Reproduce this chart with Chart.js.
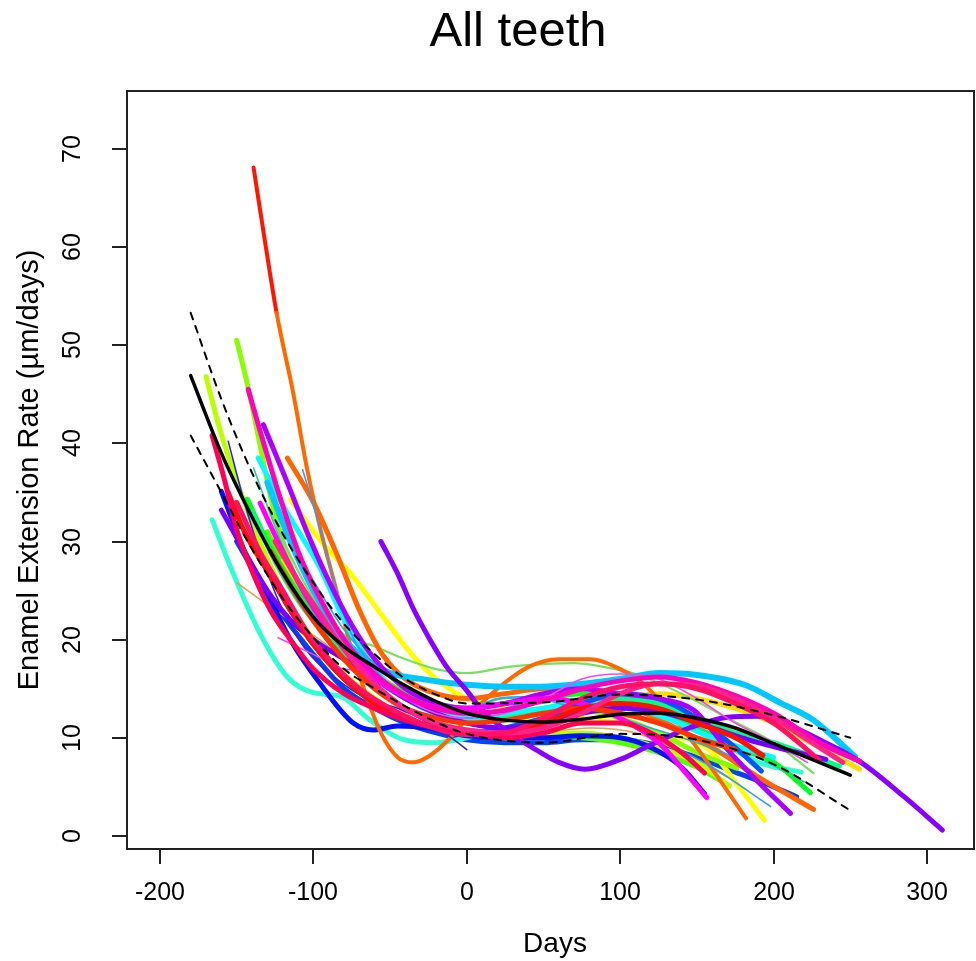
<!DOCTYPE html>
<html>
<head>
<meta charset="utf-8">
<title>All teeth</title>
<script src="https://cdn.jsdelivr.net/npm/chart.js"></script>
<style>
  html, body { margin: 0; padding: 0; background: #fff; }
  canvas { display: block; }
</style>
</head>
<body>
<canvas id="chart" width="976" height="961"></canvas>
<script>
// axis ticks
const xTicks = [-200, -100, 0, 100, 200, 300];
const yTicks = [0, 10, 20, 30, 40, 50, 60, 70];

// mean fit and its confidence band, [day, rate]
const meanFit = [[-180,46.9],[-160,39],[-140,32.5],[-120,26.8],[-100,22.3],[-80,19.3],[-60,17.2],[-40,15.3],[-20,13.7],[0,12.5],[25,11.8],[50,11.6],[75,11.9],[100,12.4],[125,12.5],[150,12],[175,11],[200,9.4],[225,7.8],[250,6.2]];
const upperBand = [[-180,53.3],[-160,44.5],[-140,37],[-120,30.8],[-100,25.8],[-80,21.6],[-60,18.5],[-40,16],[-20,14.4],[0,13.5],[50,13.6],[100,14.4],[150,13.9],[200,12.3],[250,10]];
const lowerBand = [[-180,40.8],[-160,35],[-140,29.2],[-120,24.2],[-100,20.2],[-80,17],[-60,15],[-40,13.2],[-20,11.6],[0,10.4],[50,9.5],[100,10.4],[150,9.8],[200,7.3],[250,2.6]];

// individual teeth, [day, rate]
const tooth01 = [[-139,68.1],[-132,61],[-124,53.3],[-113,45],[-104,37.3],[-95,31],[-85,25],[-76,19.5],[-66,14.5],[-56,10.5],[-45,8],[-35,7.5],[-25,8.1],[-12,9.8],[0,12],[20,15],[40,17.2],[60,18],[80,18],[100,17],[115,15.5],[130,13],[150,9],[168,5],[182,1.8]];
const tooth02 = [[-150,50.5],[-143,46],[-135,40],[-128,34.6],[-118,29],[-105,24],[-90,20],[-75,17.5],[-55,15.5],[-35,14],[-15,12.6],[0,12],[25,11.8],[50,12.5],[75,12.8],[100,12],[125,10.5],[150,8.5],[176,6.9]];
const tooth03 = [[-170,46.8],[-162,42],[-154,38],[-145,34],[-135,30],[-120,25],[-100,20],[-80,16.5],[-60,14],[-40,12],[-20,11],[0,10.3],[25,10],[50,10.5],[75,10.5],[100,10],[125,9],[150,7.5],[171,5.1]];
const tooth04 = [[-166,40.8],[-158,36.3],[-150,31.2],[-140,27],[-128,23],[-115,20],[-100,17],[-80,14.5],[-60,13],[-40,11.8],[-20,11],[0,10.5],[25,10],[50,10.5],[75,11.5],[100,11.5],[120,10.5],[140,8.5],[155,6.4]];
const tooth05 = [[-142.5,45.5],[-135,41.4],[-122,34.6],[-110,29],[-95,24],[-80,20],[-60,16.5],[-40,14.3],[-20,13],[0,12.5],[25,12.8],[50,13.8],[75,15],[100,15.8],[125,16.2],[150,15.6],[175,14.3],[200,12.5],[230,9.5],[256,7.6]];
const tooth06 = [[-132.6,41.9],[-117,36],[-104,30.9],[-90,26],[-75,21.5],[-60,18],[-40,15],[-20,13.5],[0,13],[25,13.5],[50,14.5],[75,15],[100,14.5],[125,14],[148,12.8],[170,8.8],[190,5.5],[211,2.3]];
const tooth07 = [[-136,38.5],[-117,32.9],[-96,27.4],[-80,22],[-60,17],[-40,14],[-20,12.5],[0,12],[25,12.5],[50,13],[75,13.5],[100,13.2],[130,12],[160,10],[200,8]];
const tooth08 = [[-117,38.5],[-100,34],[-85,28.8],[-70,23],[-55,18.5],[-40,16],[-20,14.5],[0,14],[25,14.5],[50,15],[75,14.5],[100,13.5],[130,11.5],[160,9],[190,6],[226,2.7]];
const tooth09 = [[-107,37.3],[-95,31],[-85,25],[-75,20.5],[-60,17],[-40,14],[-20,12.5],[0,12],[25,13],[50,14],[75,13.5],[100,12],[130,9.5],[160,7],[198,3]];
const tooth10 = [[-139,37.5],[-125,31.5],[-110,26],[-95,22],[-80,19],[-60,16],[-40,14],[-20,13.5],[0,13],[25,14],[50,14],[75,13.5],[100,13],[130,12],[160,10.5],[190,8],[220,5.5]];
const tooth11 = [[-160,35.1],[-150,31],[-140,27.2],[-128,24],[-115,20],[-96,15.6],[-74,11.5],[-61,10.8],[-45,11.2],[-25,11],[0,10.2],[25,10],[50,10],[75,10.2],[100,10],[120,9],[140,7],[155,4.3]];
const tooth12 = [[-160,33.2],[-145,29],[-130,25],[-115,22],[-100,20],[-80,18],[-60,16],[-40,14],[-20,12.5],[0,11.5],[25,11],[50,11.5],[75,12.5],[100,13],[130,12.5],[160,11],[190,9.5],[234,7.8]];
const tooth13 = [[-166,32.2],[-154,27.4],[-135,20.7],[-117,16.2],[-100,14.6],[-82,14.2],[-63,11.8],[-41,9.8],[-20,9.5],[0,10],[25,11],[50,12],[75,13],[100,13],[130,12],[160,10],[190,7.5],[218,6.5]];
const tooth14 = [[-150,25.8],[-125,23],[-96,20],[-80,18],[-60,15],[-40,12.5],[-20,11],[0,10.5],[25,10.2],[50,10.5],[80,11],[110,10.5],[140,8.5],[170,6]];
const tooth15 = [[-123,20.2],[-100,18.5],[-80,17],[-63,16.8],[-40,14],[-20,12.5],[0,12],[25,12.5],[50,14],[75,16],[100,16.5],[125,16],[150,14],[175,11.5],[200,9.5],[222,7.5]];
const tooth16 = [[-56,30],[-45,26.7],[-35,23.2],[-24,20],[-13,17.2],[0,14.8],[10,12.8],[25,10.8],[45,8.8],[60,7.5],[77,6.8],[100,7.8],[120,9.3],[145,11],[170,12.1],[190,12.2],[210,11.3],[230,9.8],[256,7.6],[285,4],[310,0.6]];
const tooth17 = [[-128,33],[-110,27],[-95,23],[-80,20.5],[-60,19.3],[-40,18],[-20,17],[0,16.6],[26,17.2],[50,17.5],[70,17.6],[90,17.2],[110,16.5],[140,14.5],[170,12],[200,9.5],[226,6.4]];
const tooth18 = [[-130,36],[-115,30],[-100,25],[-85,21],[-70,18.5],[-50,16.6],[-30,16],[-17,15.7],[0,15.4],[25,15.2],[48,15.2],[75,15.5],[100,16],[126,16.6],[150,16.4],[181,15.4],[205,13.5],[225,11.9],[253,8.1]];
const tooth19 = [[-115,34.3],[-95,30],[-74,26.4],[-55,22.4],[-37,18.7],[-20,16],[0,14],[25,13],[50,12.5],[75,12],[100,11.5],[125,10.5],[158,8.8],[175,5.5],[194,1.6]];
const tooth20 = [[-155.5,35],[-145,31],[-130,27],[-115,23],[-100,19.5],[-80,16],[-60,13.5],[-40,12],[-20,11],[0,10.5],[25,10.5],[50,11.5],[75,13],[100,13.5],[125,13],[150,11.5],[175,10],[193,8.2]];
const tooth21 = [[-155.5,40.2],[-145,34],[-135,29],[-120,23],[-105,19],[-85,16],[-65,14],[-45,13],[-25,11.5],[-10,10],[0,8.8]];
const tooth22 = [[-143,34.3],[-130,30],[-115,26],[-100,22.5],[-80,19],[-60,16.5],[-40,14.5],[-20,13.5],[0,13],[25,13.5],[50,14],[75,14.5],[100,14.2],[125,13],[150,11],[175,9],[200,7.5],[224,4.4]];
const tooth23 = [[-134.7,33.9],[-120,29],[-105,24.5],[-90,21],[-70,17.5],[-50,15],[-30,13.5],[-10,13],[0,13],[25,13.5],[50,14],[75,13.5],[100,12],[125,9.5],[145,6],[156.5,3.9]];
const tooth24 = [[-150,34],[-135,29],[-120,25],[-105,21],[-90,18],[-70,15],[-50,13],[-30,11.5],[-10,10.5],[0,10.3],[25,10.5],[50,12],[75,14],[100,15.2],[125,15.5],[150,15],[175,13.5],[200,11.5],[230,7.7]];
const tooth25 = [[-125,30],[-110,26],[-95,22.5],[-80,19],[-60,15.5],[-40,13],[-20,11.5],[0,10.8],[25,10.5],[50,11],[75,12.5],[100,14.5],[125,15.5],[150,15.3],[175,14],[200,12],[225,9.5],[245,7.5]];
const tooth26 = [[-145,31],[-130,27],[-115,23],[-100,19.5],[-80,16],[-60,13.5],[-40,12],[-20,11],[0,10.5],[25,11],[50,12],[75,13.5],[100,14.5],[125,14],[150,12],[175,9],[192,6.6]];
const tooth27 = [[-150,30],[-135,26],[-120,22.5],[-100,18.5],[-80,15],[-60,13],[-40,11.5],[-20,10.5],[0,9.8],[25,9.5],[50,9.5],[75,9.8],[100,9.8],[125,9.2],[150,8],[175,6.5],[200,5],[215,4]];
const tooth28 = [[-130,31],[-115,26],[-100,22],[-80,18],[-60,15],[-40,13],[-20,11.5],[0,10.8],[25,10.5],[50,10.2],[75,10],[100,9.5],[125,8.5],[150,7],[171,5.1]];
const tooth29 = [[-120,28],[-105,24],[-90,21],[-70,18],[-50,15.5],[-30,13.5],[-10,12.5],[0,12.3],[25,12.5],[50,13],[75,13.5],[100,14],[125,14.5],[150,14],[175,13],[200,11.5],[230,9],[256,6.8]];
const tooth30 = [[-128,29],[-113,25],[-98,21.5],[-80,18],[-60,15],[-40,13],[-20,12],[0,11.5],[25,11.8],[50,12.5],[75,13],[100,12.5],[125,11.5],[150,10],[175,8.8]];
const tooth31 = [[-140,33],[-125,28],[-110,24],[-95,21],[-80,18.5],[-60,16],[-40,14],[-20,12.5],[0,12],[25,12.3],[50,13],[75,13.8],[100,14],[125,13.5],[150,12],[175,10.5],[200,9.5],[222,8.3],[243,7.1]];
const tooth32 = [[-100,26],[-80,21],[-60,17.5],[-40,15],[-20,13.5],[0,13],[20,14],[40,14.2],[60,13.5],[90,12.5],[120,11],[150,9.5],[175,8]];

// drawing styles for each tooth
const teeth = [
  { data: tooth27, color: '#0044EE', width: 5 },
  { data: tooth28, color: '#55FF00', width: 5 },
  { data: tooth13, color: '#33FFD5', width: 5 },
  { data: tooth14, color: '#E8A050', width: 1.6 },
  { data: tooth03, color: '#BBFF00', width: 5 },
  { data: tooth11, color: '#0011FF', width: 5 },
  { data: tooth19, color: '#FFFF00', width: 5 },
  { data: tooth29, color: '#FFDD00', width: 5 },
  { data: tooth02, color: '#88FF00', width: 5 },
  { data: tooth17, color: '#77E060', width: 2.2 },
  { data: tooth01, color: '#FF6A00', width: 4 },
  { data: tooth08, color: '#FF6600', width: 5 },
  { data: tooth22, color: '#00FF22', width: 5 },
  { data: tooth31, color: '#00FF88', width: 5 },
  { data: tooth10, color: '#33CC99', width: 1.6 },
  { data: tooth07, color: '#00FFFF', width: 5 },
  { data: tooth18, color: '#00C8FF', width: 6 },
  { data: tooth09, color: '#3399FF', width: 1.6 },
  { data: tooth32, color: '#22AAEE', width: 1.6 },
  { data: tooth26, color: '#0055FF', width: 5 },
  { data: tooth21, color: '#3322DD', width: 1.6 },
  { data: tooth12, color: '#7700FF', width: 5 },
  { data: tooth06, color: '#AA00FF', width: 5 },
  { data: tooth16, color: '#8800FF', width: 5 },
  { data: tooth15, color: '#FF44EE', width: 1.6 },
  { data: tooth23, color: '#FF00FF', width: 5 },
  { data: tooth05, color: '#FF00BB', width: 5 },
  { data: tooth30, color: '#FF3300', width: 5 },
  { data: tooth20, color: '#FF1100', width: 5 },
  { data: tooth04, color: '#FF0055', width: 5 },
  { data: tooth25, color: '#FF2288', width: 5 },
  { data: tooth24, color: '#FF1166', width: 5 }
];

const toPoints = arr => arr.map(p => ({ x: p[0], y: p[1] }));

const datasets = [
  { data: toPoints(meanFit), borderColor: '#000', borderWidth: 3.5 },
  { data: toPoints(upperBand), borderColor: '#000', borderWidth: 2, borderDash: [7, 7] },
  { data: toPoints(lowerBand), borderColor: '#000', borderWidth: 2, borderDash: [7, 7] }
];
teeth.slice().reverse().forEach(t => {
  const ds = { data: toPoints(t.data), borderColor: t.color, borderWidth: t.width };
  if (t.data === tooth01) {
    // the tall curve turns red towards its top
    ds.segment = { borderColor: c => (c.p0.parsed.y > 60 ? '#FF1500' : undefined) };
  }
  datasets.push(ds);
});

const FONT = '"Liberation Sans", Arial, Helvetica, sans-serif';

// R style box, ticks and labels
const rAxes = {
  id: 'rAxes',
  afterDraw(chart) {
    const { ctx, chartArea: a, scales: { x, y } } = chart;
    ctx.save();
    ctx.strokeStyle = '#222';
    ctx.lineWidth = 2;
    ctx.strokeRect(a.left, a.top, a.right - a.left, a.bottom - a.top);

    ctx.fillStyle = '#000';
    ctx.font = '25px ' + FONT;
    ctx.textAlign = 'center';
    ctx.textBaseline = 'middle';
    xTicks.forEach(v => {
      const px = Math.round(x.getPixelForValue(v));
      ctx.beginPath();
      ctx.moveTo(px, a.bottom);
      ctx.lineTo(px, a.bottom + 15);
      ctx.stroke();
      ctx.fillText(String(v), px, 893);
    });
    yTicks.forEach(v => {
      const py = Math.round(y.getPixelForValue(v));
      ctx.beginPath();
      ctx.moveTo(a.left - 15, py);
      ctx.lineTo(a.left, py);
      ctx.stroke();
      ctx.save();
      ctx.translate(73, py);
      ctx.rotate(-Math.PI / 2);
      ctx.fillText(String(v), 0, 0);
      ctx.restore();
    });

    ctx.font = '28px ' + FONT;
    ctx.fillText('Days', 555, 944);
    ctx.save();
    ctx.translate(30, (a.top + a.bottom) / 2);
    ctx.rotate(-Math.PI / 2);
    ctx.font = '29px ' + FONT;
    ctx.fillText('Enamel Extension Rate (\u00b5m/days)', 0, 0);
    ctx.restore();

    ctx.font = '49px ' + FONT;
    ctx.fillText('All teeth', 518, 32);
    ctx.restore();
  }
};

new Chart(document.getElementById('chart'), {
  type: 'scatter',
  data: { datasets },
  options: {
    responsive: false,
    animation: false,
    devicePixelRatio: 1,
    showLine: true,
    layout: { padding: { left: 127, top: 91, right: 2, bottom: 112 } },
    elements: {
      point: { radius: 0, hoverRadius: 0 },
      line: { cubicInterpolationMode: 'monotone', borderCapStyle: 'round', borderJoinStyle: 'round', fill: false }
    },
    scales: {
      x: { type: 'linear', min: -221.5, max: 330.6, display: false },
      y: { type: 'linear', min: -1.33, max: 75.9, display: false }
    },
    plugins: { legend: { display: false }, tooltip: { enabled: false }, title: { display: false } }
  },
  plugins: [rAxes]
});
</script>
</body>
</html>
